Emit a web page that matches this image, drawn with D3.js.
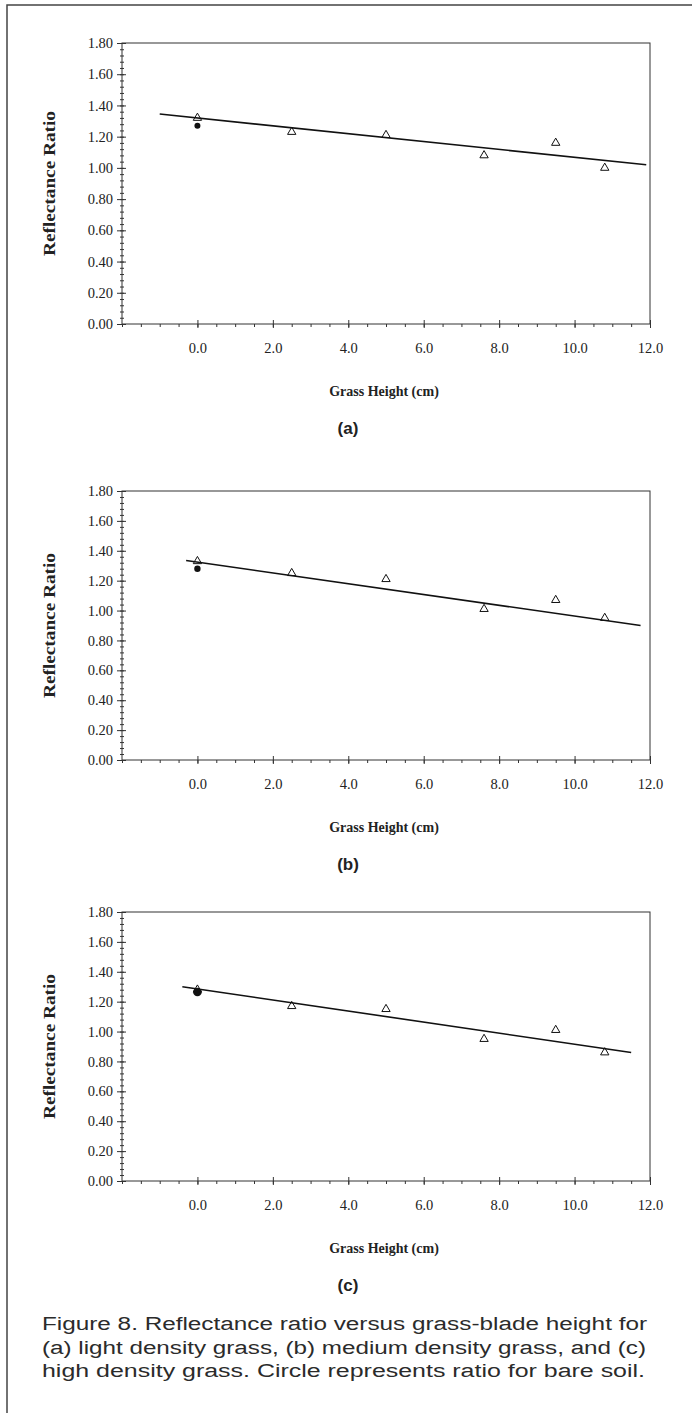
<!DOCTYPE html>
<html>
<head>
<meta charset="utf-8">
<title>Figure 8 - Reflectance ratio vs grass height</title>
<script src="https://d3js.org/d3.v7.min.js"></script>
<style>
  body { margin: 0; background: #fff; }
  .tick text { font-family: "Liberation Serif", "Times New Roman", serif; font-size: 14.5px; fill: #222; }
  .axis path, .axis line { stroke: #333; stroke-width: 1; }
  .ytitle, .xtitle { font-family: "Liberation Serif", serif; font-weight: bold; fill: #222; }
  .plabel { font-family: "Liberation Sans", Arial, sans-serif; font-weight: bold; font-size: 17px; fill: #222; }
  .caption { font-family: "Liberation Sans", Arial, sans-serif; font-size: 18px; fill: #2b2b2b; }
</style>
</head>
<body>
<script>
// grass heights (cm) measured for each panel
var heights = [0, 2.5, 5.0, 7.6, 9.5, 10.8];
// reflectance ratio, triangles
var ratioA = [1.32, 1.23, 1.21, 1.08, 1.16, 1.00];
var ratioB = [1.33, 1.25, 1.21, 1.01, 1.07, 0.95];
var ratioC = [1.28, 1.17, 1.15, 0.95, 1.01, 0.86];
// bare soil (circle), plotted at height 0
var soilRatio = [1.27, 1.28, 1.265];
// fitted line end points [height, ratio]
var fitA = [[-1.0, 1.345], [11.9, 1.02]];
var fitB = [[-0.3, 1.335], [11.75, 0.90]];
var fitC = [[-0.4, 1.30], [11.5, 0.86]];
// tick labels
var yTicks = [0, 0.2, 0.4, 0.6, 0.8, 1.0, 1.2, 1.4, 1.6, 1.8];
var xTicks = [0, 2, 4, 6, 8, 10, 12];
var panelNames = ["(a)", "(b)", "(c)"];
var captionLines = [
  "Figure 8. Reflectance ratio versus grass-blade height for",
  "(a) light density grass, (b) medium density grass, and (c)",
  "high density grass. Circle represents ratio for bare soil."
];

var W = 692, H = 1413;
var svg = d3.select("body").append("svg")
    .attr("width", W)
    .attr("height", H);

// outer frame (top and left edge of the page box)
svg.append("path")
    .attr("d", "M7,1413 L7,5 L692,5")
    .attr("fill", "none")
    .attr("stroke", "#444")
    .attr("stroke-width", 1.5);

var panels = [
  { ratios: ratioA, soil: soilRatio[0], fit: fitA, top: 43, bottom: 324, dotR: 3 },
  { ratios: ratioB, soil: soilRatio[1], fit: fitB, top: 491, bottom: 760, dotR: 3.2 },
  { ratios: ratioC, soil: soilRatio[2], fit: fitC, top: 912, bottom: 1181, dotR: 4.3 }
];

var x = d3.scaleLinear().domain([-2, 12]).range([122, 650]);
var yMinor = d3.range(0, 1.8001, 0.04);
var xMinor = d3.range(-2, 12.001, 0.5);

panels.forEach(function(p, i) {
  var y = d3.scaleLinear().domain([0, 1.8]).range([p.bottom, p.top]);
  var g = svg.append("g");

  // plot frame
  g.append("rect")
    .attr("x", x(-2)).attr("y", y(1.8))
    .attr("width", x(12) - x(-2)).attr("height", y(0) - y(1.8))
    .attr("fill", "none").attr("stroke", "#333").attr("stroke-width", 1);

  // y axis: minor ticks both sides, major ticks crossing
  g.append("g").attr("class", "axis").attr("transform", "translate(" + x(-2) + ",0)")
    .call(d3.axisLeft(y).tickValues(yMinor).tickSize(2).tickFormat(""))
    .call(function(s) { s.select(".domain").remove(); });
  g.append("g").attr("class", "axis").attr("transform", "translate(" + x(-2) + ",0)")
    .call(d3.axisRight(y).tickValues(yMinor).tickSize(2).tickFormat(""))
    .call(function(s) { s.select(".domain").remove(); });
  g.append("g").attr("class", "axis").attr("transform", "translate(" + x(-2) + ",0)")
    .call(d3.axisRight(y).tickValues(yTicks).tickSize(4).tickFormat(""))
    .call(function(s) { s.select(".domain").remove(); });
  g.append("g").attr("class", "axis").attr("transform", "translate(" + x(-2) + ",0)")
    .call(d3.axisLeft(y).tickValues(yTicks).tickSize(5).tickSizeOuter(0).tickPadding(4).tickFormat(d3.format(".2f")))
    .call(function(s) { s.select(".domain").remove(); });

  // x axis
  g.append("g").attr("class", "axis").attr("transform", "translate(0," + y(0) + ")")
    .call(d3.axisBottom(x).tickValues(xMinor).tickSize(3).tickFormat(""))
    .call(function(s) { s.select(".domain").remove(); });
  g.append("g").attr("class", "axis").attr("transform", "translate(0," + y(0) + ")")
    .call(d3.axisTop(x).tickValues(xTicks).tickSize(4).tickFormat(""))
    .call(function(s) { s.select(".domain").remove(); });
  g.append("g").attr("class", "axis").attr("transform", "translate(0," + y(0) + ")")
    .call(d3.axisBottom(x).tickValues(xTicks).tickSize(4).tickPadding(15).tickFormat(d3.format(".1f")))
    .call(function(s) { s.select(".domain").remove(); s.selectAll(".tick line").attr("y2", 4); });

  // fitted line
  g.append("path")
    .datum(p.fit)
    .attr("d", d3.line().x(function(d) { return x(d[0]); }).y(function(d) { return y(d[1]); }))
    .attr("fill", "none").attr("stroke", "#111").attr("stroke-width", 1.6);

  // bare soil circle
  g.append("circle")
    .attr("cx", x(0)).attr("cy", y(p.soil)).attr("r", p.dotR)
    .attr("fill", "#111");

  // triangles
  g.selectAll(".tri").data(p.ratios).enter().append("path")
    .attr("class", "tri")
    .attr("transform", function(d, j) { return "translate(" + x(heights[j]) + "," + y(d) + ")"; })
    .attr("d", d3.symbol().type(d3.symbolTriangle).size(30))
    .attr("fill", "none").attr("stroke", "#111").attr("stroke-width", 1);

  // axis titles
  var midY = (p.top + p.bottom) / 2;
  g.append("text").attr("class", "ytitle")
    .attr("transform", "translate(55," + midY + ") rotate(-90)")
    .attr("text-anchor", "middle")
    .attr("font-size", 16)
    .attr("textLength", 145).attr("lengthAdjust", "spacingAndGlyphs")
    .text("Reflectance Ratio");
  g.append("text").attr("class", "xtitle")
    .attr("x", 384).attr("y", p.bottom + 72)
    .attr("text-anchor", "middle")
    .attr("font-size", 14)
    .text("Grass Height (cm)");
  g.append("text").attr("class", "plabel")
    .attr("x", 348).attr("y", p.bottom + 110)
    .attr("text-anchor", "middle")
    .text(panelNames[i]);
});

// caption
svg.selectAll(".caption").data(captionLines).enter().append("text")
  .attr("class", "caption")
  .attr("x", 42)
  .attr("y", function(d, i) { return 1330 + i * 23.5; })
  .attr("textLength", function(d, i) { return [605, 604, 603][i]; })
  .attr("lengthAdjust", "spacingAndGlyphs")
  .text(function(d) { return d; });
</script>
</body>
</html>
